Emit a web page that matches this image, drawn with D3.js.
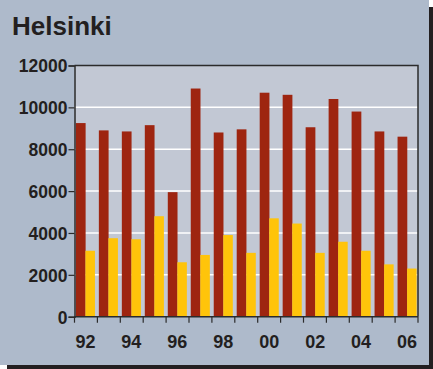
<!DOCTYPE html>
<html>
<head>
<meta charset="utf-8">
<script src="https://cdn.jsdelivr.net/npm/d3@7"></script>
<style>
  html, body { margin: 0; padding: 0; background: #ffffff; }
  svg { display: block; }
  text { font-family: "Liberation Sans", Arial, sans-serif; font-weight: bold; fill: #231f20; }
</style>
</head>
<body>
<script>
// Yearly figures for Helsinki, two series per year
const years = ["92","93","94","95","96","97","98","99","00","01","02","03","04","05","06"];
const seriesA = [9250, 8900, 8850, 9150, 5950, 10900, 8800, 8950, 10700, 10600, 9050, 10400, 9800, 8850, 8600];
const seriesB = [3150, 3750, 3700, 4800, 2600, 2950, 3900, 3050, 4700, 4450, 3050, 3580, 3150, 2500, 2300];
const yTicks = [0, 2000, 4000, 6000, 8000, 10000, 12000];
const xLabels = ["92","94","96","98","00","02","04","06"];

const W = 433, H = 369;
const plot = { left: 74.5, right: 418, top: 65.5, bottom: 316.7 };

const svg = d3.select("body").append("svg").attr("width", W).attr("height", H);

// drop shadow and panel
svg.append("rect").attr("x", 7).attr("y", 7).attr("width", W - 7).attr("height", H - 7).attr("fill", "#231f20");
svg.append("rect").attr("x", 0).attr("y", 0).attr("width", 429).attr("height", 365).attr("fill", "#aebacb");

svg.append("text").attr("x", 12).attr("y", 35).attr("font-size", 26).text("Helsinki");

const x = d3.scaleBand().domain(years).range([plot.left, plot.right]).paddingInner(0.17).paddingOuter(0.06);
const y = d3.scaleLinear().domain([0, 12000]).range([plot.bottom, plot.top]);

// plot background
svg.append("rect")
  .attr("x", plot.left).attr("y", plot.top)
  .attr("width", plot.right - plot.left).attr("height", plot.bottom - plot.top)
  .attr("fill", "#c2c8d4");

// gridlines
svg.append("g").selectAll("line")
  .data(yTicks.filter(v => v > 0 && v < 12000))
  .join("line")
  .attr("x1", plot.left).attr("x2", plot.right)
  .attr("y1", d => y(d)).attr("y2", d => y(d))
  .attr("stroke", "#ffffff").attr("stroke-width", 1.5);

// bars
const half = x.bandwidth() / 2;
const g = svg.append("g");
g.selectAll(".a").data(years).join("rect").attr("class", "a")
  .attr("x", (d, i) => x(d)).attr("width", half + 0.2)
  .attr("y", (d, i) => y(seriesA[i])).attr("height", (d, i) => y(0) - y(seriesA[i]))
  .attr("fill", "#9e2510");
g.selectAll(".b").data(years).join("rect").attr("class", "b")
  .attr("x", (d, i) => x(d) + half).attr("width", half)
  .attr("y", (d, i) => y(seriesB[i])).attr("height", (d, i) => y(0) - y(seriesB[i]))
  .attr("fill", "#ffc40a");

// frame: top and right border
svg.append("path")
  .attr("d", `M${plot.left},${plot.top}H${plot.right}V${plot.bottom}`)
  .attr("fill", "none").attr("stroke", "#2b2b2b").attr("stroke-width", 1.5);

// y axis
const yAxis = d3.axisLeft(y).tickValues(yTicks).tickSize(6).tickPadding(1).tickFormat(d3.format("d"));
const ya = svg.append("g").attr("transform", `translate(${plot.left},0)`).call(yAxis);
ya.select(".domain").attr("stroke", "#2b2b2b").attr("stroke-width", 1.5);
ya.selectAll(".tick line").attr("stroke", "#2b2b2b").attr("stroke-width", 1.2);
ya.selectAll(".tick text").attr("font-size", 17.5).attr("font-family", "Liberation Sans, Arial, sans-serif")
  .attr("font-weight", "bold").attr("fill", "#231f20").attr("dy", "0.36em");

// x axis: ticks at category boundaries
const step = x.step();
const boundaries = d3.range(years.length + 1).map(i => plot.left + (plot.right - plot.left) * i / years.length);
const xa = svg.append("g");
xa.append("line").attr("x1", plot.left).attr("x2", plot.right).attr("y1", plot.bottom).attr("y2", plot.bottom)
  .attr("stroke", "#2b2b2b").attr("stroke-width", 1.5);
xa.selectAll(".tk").data(boundaries).join("line").attr("class", "tk")
  .attr("x1", d => d).attr("x2", d => d).attr("y1", plot.bottom).attr("y2", plot.bottom + 6)
  .attr("stroke", "#2b2b2b").attr("stroke-width", 1.2);
xa.selectAll("text").data(xLabels).join("text")
  .attr("x", d => x(d) + x.bandwidth() / 2).attr("y", 348)
  .attr("text-anchor", "middle").attr("font-size", 18).text(d => d);
</script>
</body>
</html>
